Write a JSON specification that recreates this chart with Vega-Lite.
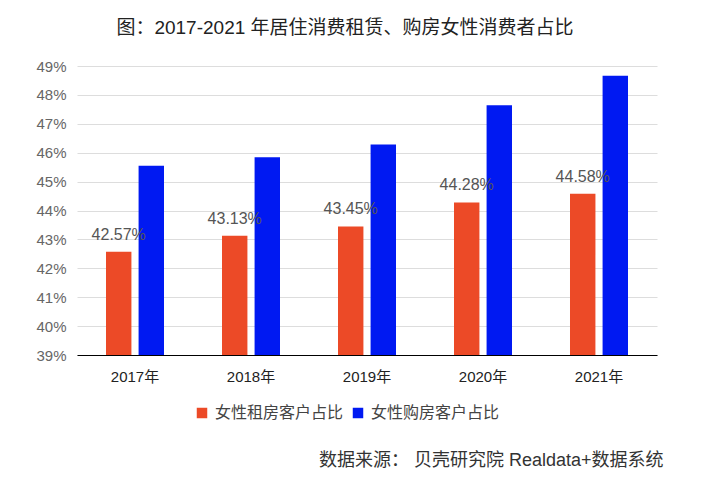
{
  "$schema": "https://vega.github.io/schema/vega-lite/v6.json",
  "autosize": {"type": "none"},
  "padding": {"left": 77, "top": 66, "right": 58, "bottom": 130},
  "width": 580,
  "height": 289,
  "background": "#ffffff",
  "title": {
    "text": "图：2017-2021 年居住消费租赁、购房女性消费者占比",
    "fontSize": 19,
    "fontWeight": "normal",
    "color": "#222222",
    "anchor": "middle",
    "dx": -22,
    "offset": 21
  },
  "data": {
    "values": [
      {"year": "2017年", "series": "女性租房客户占比", "value": 42.57},
      {"year": "2017年", "series": "女性购房客户占比", "value": 45.55},
      {"year": "2018年", "series": "女性租房客户占比", "value": 43.13},
      {"year": "2018年", "series": "女性购房客户占比", "value": 45.84},
      {"year": "2019年", "series": "女性租房客户占比", "value": 43.45},
      {"year": "2019年", "series": "女性购房客户占比", "value": 46.28},
      {"year": "2020年", "series": "女性租房客户占比", "value": 44.28},
      {"year": "2020年", "series": "女性购房客户占比", "value": 47.64},
      {"year": "2021年", "series": "女性租房客户占比", "value": 44.58},
      {"year": "2021年", "series": "女性购房客户占比", "value": 48.66}
    ]
  },
  "encoding": {
    "x": {
      "field": "year",
      "type": "nominal",
      "scale": {"paddingInner": 0.5, "paddingOuter": 0.25},
      "axis": {
        "title": "数据来源： 贝壳研究院 Realdata+数据系统",
        "titleFontSize": 18,
        "titleFontWeight": "normal",
        "titleColor": "#333333",
        "titleAlign": "right",
        "titleAnchor": "end",
        "titleBaseline": "middle",
        "titleX": 586,
        "titleY": 105,
        "labelAngle": 0,
        "labelFontSize": 15,
        "labelColor": "#222222",
        "labelPadding": 14,
        "ticks": false,
        "domainColor": "#000000",
        "domainWidth": 1.2
      }
    },
    "xOffset": {
      "field": "series",
      "type": "nominal",
      "sort": ["女性租房客户占比", "女性购房客户占比"],
      "scale": {"paddingInner": 0.22}
    },
    "y": {
      "field": "value",
      "type": "quantitative",
      "scale": {"domain": [39, 49], "nice": false, "zero": false},
      "axis": {
        "title": null,
        "values": [39, 40, 41, 42, 43, 44, 45, 46, 47, 48, 49],
        "labelExpr": "datum.value + '%'",
        "labelFontSize": 15,
        "labelColor": "#666666",
        "labelPadding": 11,
        "ticks": false,
        "domain": false,
        "gridColor": "#dddddd"
      }
    }
  },
  "layer": [
    {
      "mark": {"type": "bar"},
      "encoding": {
        "y2": {"datum": 39},
        "color": {
          "field": "series",
          "type": "nominal",
          "sort": ["女性租房客户占比", "女性购房客户占比"],
          "scale": {
            "domain": ["女性租房客户占比", "女性购房客户占比"],
            "range": ["#ec4a27", "#0019f2"]
          },
          "legend": {
            "title": null,
            "orient": "none",
            "direction": "horizontal",
            "legendX": 117,
            "legendY": 339,
            "symbolType": "square",
            "symbolSize": 110,
            "symbolStrokeWidth": 0,
            "labelFontSize": 16,
            "labelColor": "#444444",
            "labelOffset": 5,
            "columnPadding": 6
          }
        }
      }
    },
    {
      "transform": [
        {"filter": "datum.series === '女性租房客户占比'"},
        {"calculate": "format(datum.value, '.2f') + '%'", "as": "label"}
      ],
      "mark": {"type": "text", "baseline": "bottom", "dy": -9, "fontSize": 16, "color": "#555555"},
      "encoding": {"text": {"field": "label"}}
    }
  ],
  "config": {
    "font": "Liberation Sans, Noto Sans CJK SC, sans-serif",
    "view": {"stroke": null}
  }
}
